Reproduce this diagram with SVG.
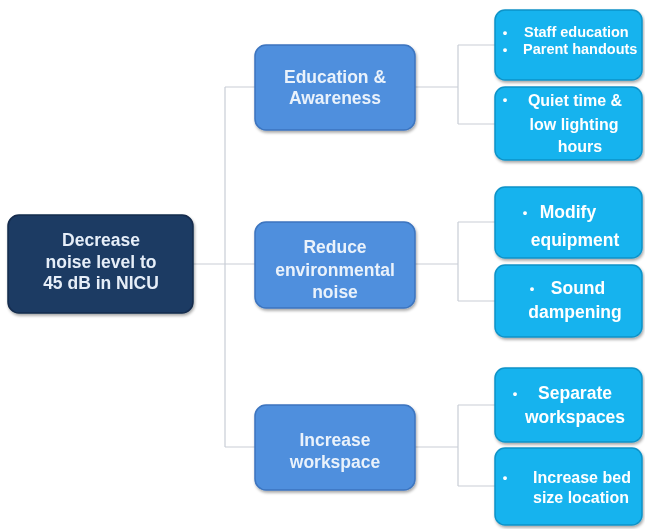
<svg xmlns="http://www.w3.org/2000/svg" width="645" height="529" viewBox="0 0 645 529">
<defs>
<filter id="sh" x="-10%" y="-10%" width="125%" height="130%">
<feGaussianBlur in="SourceAlpha" stdDeviation="1.5"/>
<feOffset dx="1" dy="2" result="b"/>
<feComponentTransfer><feFuncA type="linear" slope="0.35"/></feComponentTransfer>
<feMerge><feMergeNode/><feMergeNode in="SourceGraphic"/></feMerge>
</filter>
</defs>
<style>
.root{fill:#1B3A63;stroke:#142C4C;stroke-width:1.5}
.mid{fill:#4F8FDD;stroke:#3C74BF;stroke-width:1.5}
.leaf{fill:#17B3EE;stroke:#0F93C8;stroke-width:1.5}
text{font-family:"Liberation Sans",Arial,sans-serif;font-weight:bold;text-anchor:middle}
.rt{fill:#E6EEF8;font-size:17.5px}
.mt{fill:#EAF2FB;font-size:17.5px}
.lt{fill:#FFFFFF;font-size:17.5px}
.st{fill:#FFFFFF;font-size:16px}
.xs{fill:#FFFFFF;font-size:14.5px;text-anchor:start}
.bl{fill:#FFFFFF;font-size:13px}
.c{stroke:#C9CED6;stroke-width:1.2;fill:none}
</style>
<g id="connectors">
<path class="c" d="M193 264H225M225 87V447M225 87H255M225 264H255M225 447H255"/>
<path class="c" d="M415 87H458M458 45V124M458 45H495M458 124H495"/>
<path class="c" d="M415 264H458M458 222V301M458 222H495M458 301H495"/>
<path class="c" d="M415 447H458M458 405V486M458 405H495M458 486H495"/>
</g>
<g id="root" filter="url(#sh)">
<rect class="root" x="8" y="215" width="185" height="98" rx="11"/>
<text class="rt" x="101" y="246">Decrease</text>
<text class="rt" x="101" y="268">noise level to</text>
<text class="rt" x="101" y="289">45 dB in NICU</text>
</g>
<g id="education" filter="url(#sh)">
<rect class="mid" x="255" y="45" width="160" height="85" rx="11"/>
<text class="mt" x="335" y="83">Education &amp;</text>
<text class="mt" x="335" y="104">Awareness</text>
</g>
<g id="reduce" filter="url(#sh)">
<rect class="mid" x="255" y="222" width="160" height="86" rx="11"/>
<text class="mt" x="335" y="253">Reduce</text>
<text class="mt" x="335" y="276">environmental</text>
<text class="mt" x="335" y="298">noise</text>
</g>
<g id="workspace" filter="url(#sh)">
<rect class="mid" x="255" y="405" width="160" height="85" rx="11"/>
<text class="mt" x="335" y="446">Increase</text>
<text class="mt" x="335" y="468">workspace</text>
</g>
<g id="leaf-staff" filter="url(#sh)">
<rect class="leaf" x="495" y="10" width="147" height="70" rx="10"/>
<text class="bl" x="505" y="37">•</text>
<text class="bl" x="505" y="54">•</text>
<text class="xs" x="524" y="37">Staff education</text>
<text class="xs" x="523" y="54">Parent handouts</text>
</g>
<g id="leaf-quiet" filter="url(#sh)">
<rect class="leaf" x="495" y="87" width="147" height="73" rx="10"/>
<text class="bl" x="505" y="104">•</text>
<text class="st" x="575" y="106">Quiet time &amp;</text>
<text class="st" x="574" y="130">low lighting</text>
<text class="st" x="580" y="152">hours</text>
</g>
<g id="leaf-modify" filter="url(#sh)">
<rect class="leaf" x="495" y="187" width="147" height="71" rx="10"/>
<text class="bl" x="525" y="217">•</text>
<text class="lt" x="568" y="218">Modify</text>
<text class="lt" x="575" y="246">equipment</text>
</g>
<g id="leaf-sound" filter="url(#sh)">
<rect class="leaf" x="495" y="265" width="147" height="72" rx="10"/>
<text class="bl" x="532" y="293">•</text>
<text class="lt" x="578" y="294">Sound</text>
<text class="lt" x="575" y="318">dampening</text>
</g>
<g id="leaf-separate" filter="url(#sh)">
<rect class="leaf" x="495" y="368" width="147" height="74" rx="10"/>
<text class="bl" x="515" y="398">•</text>
<text class="lt" x="575" y="399">Separate</text>
<text class="lt" x="575" y="423">workspaces</text>
</g>
<g id="leaf-bed" filter="url(#sh)">
<rect class="leaf" x="495" y="448" width="147" height="77" rx="10"/>
<text class="bl" x="505" y="482">•</text>
<text class="st" x="582" y="483">Increase bed</text>
<text class="st" x="581" y="503">size location</text>
</g>
</svg>
